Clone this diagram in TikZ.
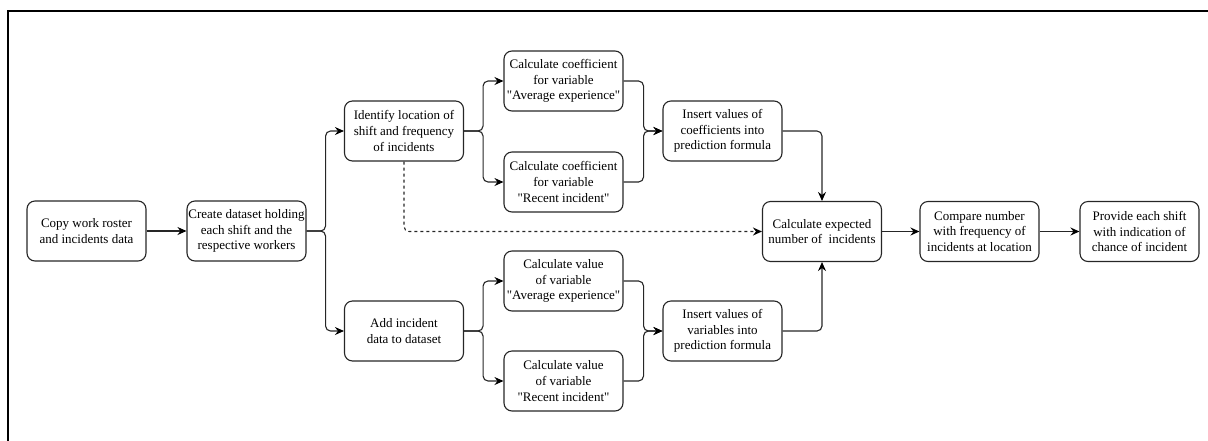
\documentclass[tikz,border=0pt]{standalone}
\usepackage{fontspec}
\setmainfont{Liberation Serif}[Ligatures=TeXOff]
\usetikzlibrary{arrows.meta}
\begin{document}
\begin{tikzpicture}[x=1pt,y=-1pt,
  stepbox/.style={draw=black!85, line width=1.1pt, rounded corners=8pt,
    minimum width=119pt, minimum height=60pt, align=center, inner sep=0.5pt,
    font=\rmfamily\fontsize{13}{15.7}\selectfont, text=black},
  flow/.style={draw=black!85, line width=1.1pt, rounded corners=5pt,
    -{Stealth[length=9pt,width=8pt,inset=3pt,black]}},
  hint/.style={flow, dash pattern=on 3pt off 3pt}]
\useasboundingbox (0,0) rectangle (1208,440);
% outer frame
\draw[line width=1.4pt] (8,445) -- (8,11) -- (1215,11);

% process steps
\node[stepbox] (copy)    at (86.5,231)  {Copy work roster\\and incidents data};
\node[stepbox] (create)  at (246.5,231) {Create dataset holding\\each shift and the\\respective workers};
\node[stepbox] (ident)   at (404,131)   {Identify location of\\shift and frequency\\of incidents};
\node[stepbox] (addinc)  at (404,331)   {Add incident\\data to dataset};
\node[stepbox] (ccae)    at (563.5,81)  {Calculate coefficient\\for variable\\"Average experience"};
\node[stepbox] (ccri)    at (563.5,182) {Calculate coefficient\\for variable\\"Recent incident"};
\node[stepbox] (cvae)    at (563.5,281) {Calculate value\\of variable\\"Average experience"};
\node[stepbox] (cvri)    at (563.5,381) {Calculate value\\of variable\\"Recent incident"};
\node[stepbox] (inscoef) at (722.5,131) {Insert values of\\coefficients into\\prediction formula};
\node[stepbox] (insvar)  at (722.5,331) {Insert values of\\variables into\\prediction formula};
\node[stepbox] (calcexp) at (822,231.5) {Calculate expected\\number of\ \ incidents};
\node[stepbox] (compare) at (979.5,231.5) {Compare number\\with frequency of\\incidents at location};
\node[stepbox] (provide) at (1139.5,231.5) {Provide each shift\\with indication of\\chance of incident};

% connectors
\draw[flow] (copy) -- (create);
\draw[flow] (create.east) -- ++(19,0) |- (ident.west);
\draw[flow] (create.east) -- ++(19,0) |- (addinc.west);
\draw[flow] (ident.east) -- ++(19,0) |- (ccae.west);
\draw[flow] (ident.east) -- ++(19,0) |- (ccri.west);
\draw[flow] (addinc.east) -- ++(19,0) |- (cvae.west);
\draw[flow] (addinc.east) -- ++(19,0) |- (cvri.west);
\draw[flow] (ccae.east) -- ++(20,0) |- (inscoef.west);
\draw[flow] (ccri.east) -- ++(20,0) |- (inscoef.west);
\draw[flow] (cvae.east) -- ++(20,0) |- (insvar.west);
\draw[flow] (cvri.east) -- ++(20,0) |- (insvar.west);
\draw[flow] (inscoef.east) -| (calcexp.north);
\draw[flow] (insvar.east) -| (calcexp.south);
\draw[hint] (ident.south) |- (calcexp.west);
\draw[flow] (calcexp) -- (compare);
\draw[flow] (compare) -- (provide);
\end{tikzpicture}
\end{document}
